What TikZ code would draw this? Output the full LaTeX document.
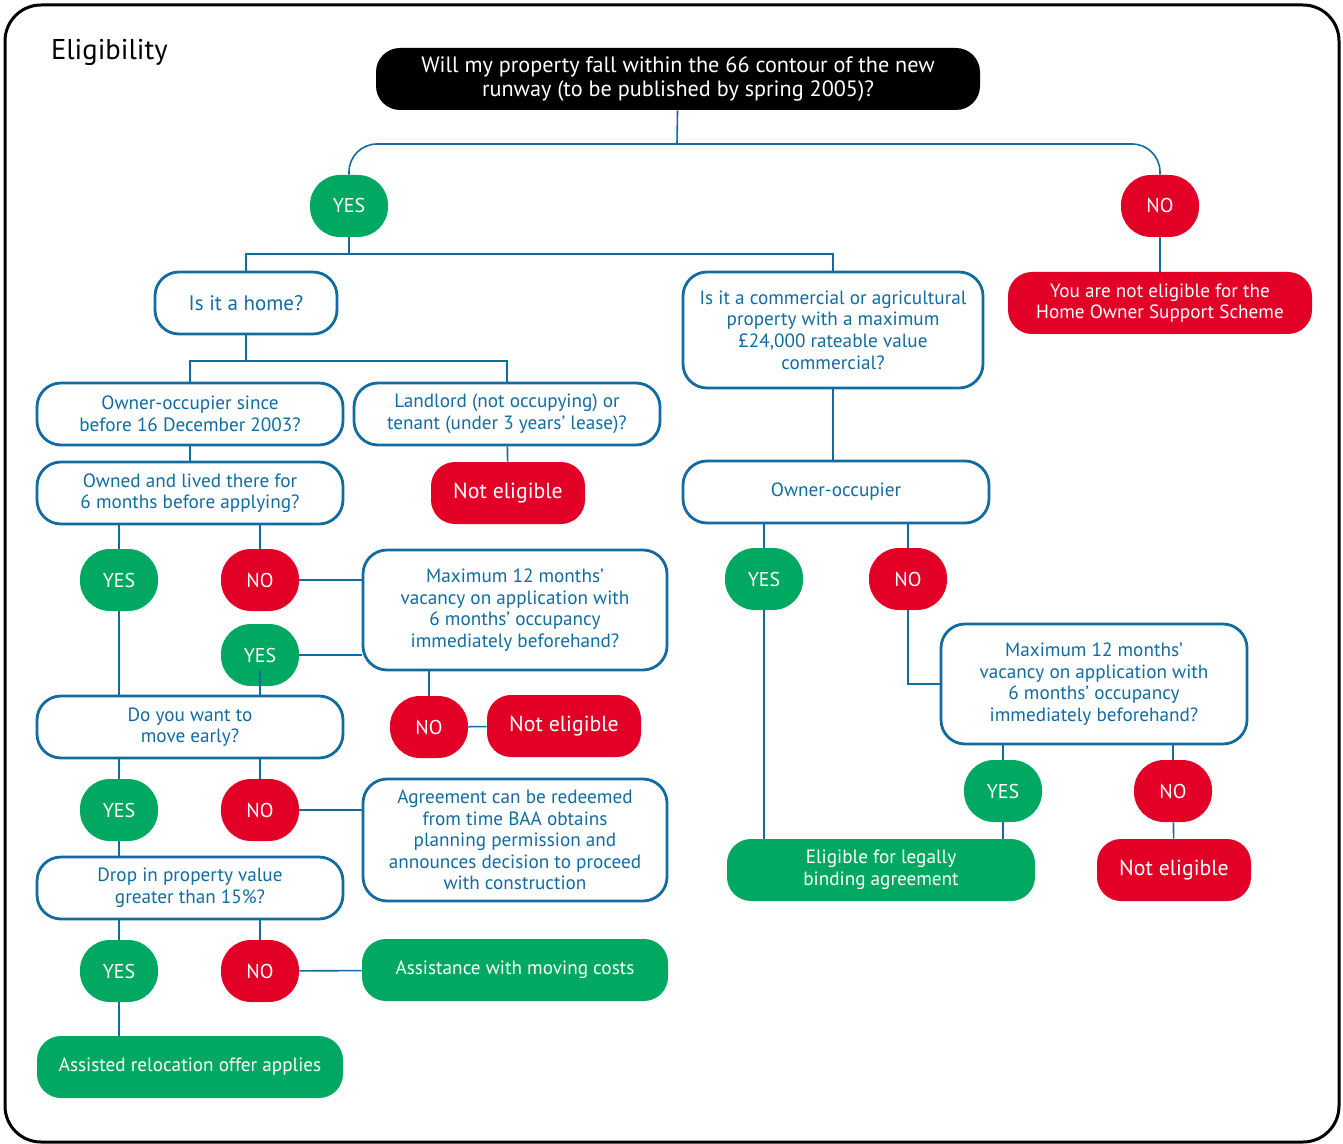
\documentclass[tikz,border=0pt]{standalone}
\usepackage{fontspec}
\setmainfont{PT Sans}
\usepackage{tikz}
\usetikzlibrary{positioning, calc}

\definecolor{hosblue}{RGB}{18,108,160}
\definecolor{hosgreen}{RGB}{0,168,98}
\definecolor{hosred}{RGB}{226,0,38}

\tikzset{
  box/.style={rectangle, rounded corners=12pt, inner sep=2pt, align=center, minimum height=31pt},
  qbox/.style={box, draw=hosblue, line width=1.4pt, fill=white, text=hosblue, font=\fontsize{9.6}{10.8}\selectfont},
  bbox/.style={box, fill=black, text=white, font=\fontsize{11.1}{12}\selectfont},
  gbox/.style={box, fill=hosgreen, text=white, font=\fontsize{9.6}{10.8}\selectfont},
  rbox/.style={box, fill=hosred, text=white, font=\fontsize{9.6}{10.8}\selectfont},
  yes/.style={rectangle, rounded corners=15pt, fill=hosgreen, text=white, minimum width=39pt, minimum height=31pt, inner sep=0pt, font=\fontsize{10}{12}\selectfont},
  no/.style={yes, fill=hosred},
  link/.style={draw=hosblue, line width=0.8pt}
}

\begin{document}
\begin{tikzpicture}[x=0.5pt, y=-0.5pt]
  \useasboundingbox (0,0) rectangle (1343,1144);

  % Frame and title
  \draw[line width=1.5pt, rounded corners=18pt] (5,5) rectangle (1339,1142);
  \node[anchor=west, font=\fontsize{14.3}{16}\selectfont] (title) at (44,52) {Eligibility};

  % Top question
  \node[bbox, minimum width=302pt] (top) at (678,79)
    {Will my property fall within the 66 contour of the new\\runway (to be published by spring 2005)?};
  \node[yes] (y1) at (349,206) {YES};
  \node[no] (n1) at (1160,206) {NO};
  \node[rbox, minimum width=152pt] (nyou) at (1160,303)
    {You are not eligible for the\\Home Owner Support Scheme};

  % Left branch
  \node[qbox, minimum width=91pt] (home) at (246,303) {\fontsize{10.5}{12}\selectfont Is it a home?};
  \node[qbox, minimum width=153pt] (own1) at (190,414) {Owner-occupier since\\before 16 December 2003?};
  \node[qbox, minimum width=153pt] (land) at (507,414) {Landlord (not occupying) or\\tenant (under 3 years’ lease)?};
  \node[rbox, minimum width=77pt, font=\fontsize{10.9}{12}\selectfont] (ne1) at (508,493) {Not eligible};
  \node[qbox, minimum width=153pt] (own2) at (190,493) {Owned and lived there for\\6 months before applying?};
  \node[yes] (y2) at (119,580) {YES};
  \node[no] (n2) at (260,580) {NO};
  \node[qbox, minimum width=152pt, minimum height=60pt] (max1) at (515,610)
    {Maximum 12 months’\\vacancy on application with\\6 months’ occupancy\\immediately beforehand?};
  \node[yes] (y3) at (260,655) {YES};
  \node[no] (n4) at (429,727) {NO};
  \node[rbox, minimum width=77pt, font=\fontsize{10.9}{12}\selectfont] (ne2) at (564,726) {Not eligible};
  \node[qbox, minimum width=153pt] (move) at (190,727) {Do you want to\\move early?};
  \node[yes] (y5) at (119,810) {YES};
  \node[no] (n5) at (260,810) {NO};
  \node[qbox, minimum width=152pt, minimum height=61pt] (agree) at (515,840)
    {Agreement can be redeemed\\from time BAA obtains\\planning permission and\\announces decision to proceed\\with construction};
  \node[qbox, minimum width=153pt] (drop) at (190,888) {Drop in property value\\greater than 15\%?};
  \node[yes] (y6) at (119,971) {YES};
  \node[no] (n6) at (260,971) {NO};
  \node[gbox, minimum width=153pt] (assist) at (515,970) {Assistance with moving costs};
  \node[gbox, minimum width=153pt] (reloc) at (190,1067) {Assisted relocation offer applies};

  % Right branch
  \node[qbox, minimum width=150pt, minimum height=58pt] (comm) at (833,330)
    {Is it a commercial or agricultural\\property with a maximum\\£24,000 rateable value\\commercial?};
  \node[qbox, minimum width=153pt] (own3) at (836,492) {Owner-occupier};
  \node[yes] (y7) at (764,579) {YES};
  \node[no] (n7) at (908,579) {NO};
  \node[qbox, minimum width=153pt, minimum height=60pt] (max2) at (1094,684)
    {Maximum 12 months’\\vacancy on application with\\6 months’ occupancy\\immediately beforehand?};
  \node[yes] (y8) at (1003,791) {YES};
  \node[no] (n8) at (1173,791) {NO};
  \node[gbox, minimum width=154pt] (elig) at (881,870) {Eligible for legally\\binding agreement};
  \node[rbox, minimum width=77pt, font=\fontsize{10.9}{12}\selectfont] (ne3) at (1174,870) {Not eligible};

  % Split points
  \coordinate (s1) at (677,144);
  \coordinate (s2) at (349,254);
  \coordinate (s3) at (246,361);

  % Connectors
  \draw[link] (top) -- (s1);
  \draw[link, rounded corners=14pt] (s1) -| (y1);
  \draw[link, rounded corners=14pt] (s1) -| (n1);
  \draw[link] (y1) -- (s2);
  \draw[link] (s2) -| (home);
  \draw[link] (s2) -| (comm);
  \draw[link] (n1) -- (nyou);
  \draw[link] (home) -- (s3);
  \draw[link] (s3) -| (own1);
  \draw[link] (s3) -| (land);
  \draw[link] (land) -- (ne1);
  \draw[link] (own1) -- (own2);

  % Answers hanging under a question
  \foreach \ans/\q in {y2/own2, n2/own2, y5/move, n5/move, y6/drop, n6/drop,
                       y7/own3, n7/own3, y8/max2, n8/max2, n4/max1, y3/max1} {
    \draw[link] (\ans) -- (\ans |- \q.south);
  }
  % Answers leading down to the next box
  \foreach \ans/\q in {y2/move, y3/move, y5/drop, y6/reloc, y7/elig, y8/elig} {
    \draw[link] (\ans) -- (\ans |- \q.north);
  }

  \draw[link] (n2) -- (n2 -| max1.west);
  \draw[link] (y3) -- (y3 -| max1.west);
  \draw[link] (n4) -- (ne2);
  \draw[link] (n5) -- (n5 -| agree.west);
  \draw[link] (n6) -- (assist);
  \draw[link] (comm) -- (comm |- own3.north);
  \draw[link] (n7) |- (max2);
  \draw[link] (n8) -- (ne3);
\end{tikzpicture}
\end{document}
